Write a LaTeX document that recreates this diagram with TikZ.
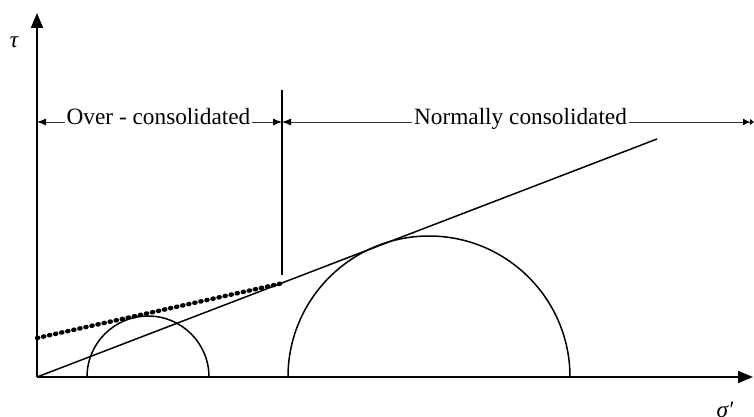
\documentclass[tikz,border=0pt]{standalone}
\usepackage{fontspec}
\setmainfont{Liberation Serif}
\usetikzlibrary{arrows.meta,calc}
\begin{document}
\begin{tikzpicture}[x=1pt,y=1pt,
 axis/.style={line width=1.8pt,-{Triangle[length=15pt,width=12pt]}},
 curve/.style={line width=1.5pt},
 dimline/.style={line width=0.9pt, black!80},
 dimtip/.style={-{Latex[length=9pt,width=7pt,fill=black,color=black]}},
 lbl/.style={font=\fontsize{23.3}{26}\selectfont, inner sep=1.5pt, anchor=mid},
 ital/.style={font=\fontsize{23.3}{26}\selectfont\itshape},
 dots/.style={line width=4.4pt, line cap=round, dash pattern=on 1.2pt off 5pt}]
\useasboundingbox (0,0) rectangle (754,416);
% axes
\coordinate (O) at (37,39);
\coordinate (ytop) at (37,403);
\coordinate (xend) at (753,39);
\draw[axis] (O) -- (ytop);
\draw[axis] (O) -- (xend);
\node[lbl, ital] (tau) at (14,371) {τ};
\node[lbl, ital, anchor=base] (sig) at (725,-1) {σ′};
% dimension line
\coordinate (dl) at (37,294);
\coordinate (dm) at (282,294);
\coordinate (dr) at (754,294);
\node[lbl] (ov) at (158.5,294) {Over - consolidated};
\node[lbl] (nc) at (520.5,294) {Normally consolidated};
\draw[dimline,dimtip] (ov.mid west) -- (dl);
\draw[dimline,dimtip] (ov.mid east) -- (dm);
\draw[dimline,dimtip] (nc.mid west) -- (dm);
\draw[dimline,-{Latex[length=7pt,width=7pt,color=black]Latex[length=4pt,width=7pt,color=black]}] (nc.mid east) -- (dr);
% divider
\coordinate (vt) at (282,326);
\coordinate (vb) at (282,141);
\draw[line width=1.4pt] (vt) -- (vb);
% envelopes
\coordinate (E) at (657,277);
\draw[curve] (O) -- (E);
\coordinate (D) at (37,78);
\coordinate (K) at ($(O)!0.392!(E)$);
\draw[dots] (D) -- (K);
% Mohr circles
\coordinate (s1) at (87,39);
\draw[curve] (s1) arc[start angle=180,end angle=0,radius=61];
\coordinate (s2) at (288,39);
\draw[curve] (s2) arc[start angle=180,end angle=0,radius=141];
\end{tikzpicture}
\end{document}
